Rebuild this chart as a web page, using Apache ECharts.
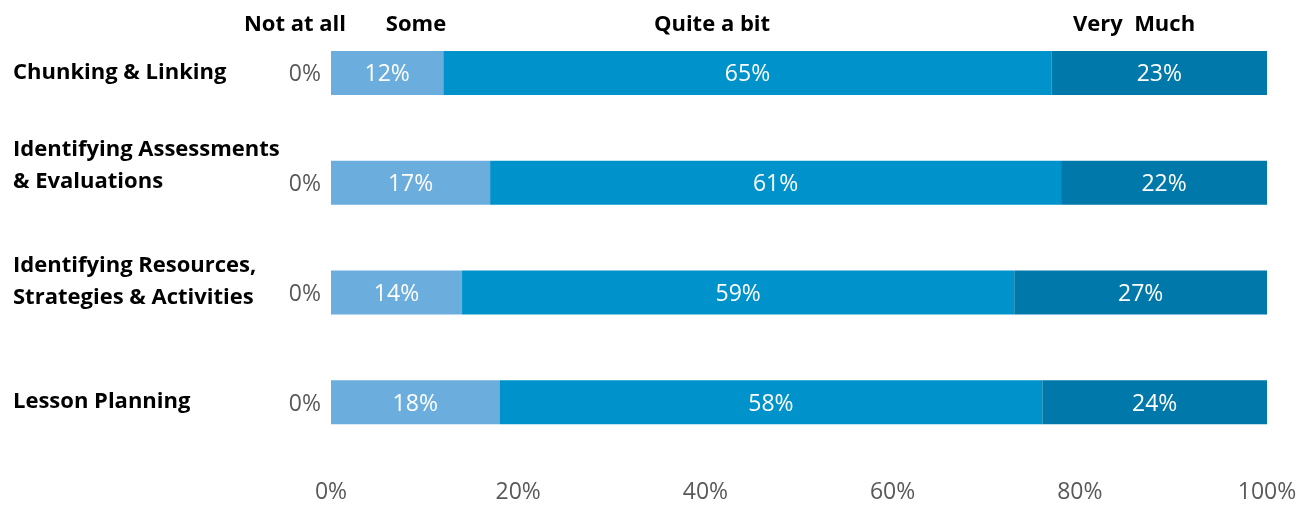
<!DOCTYPE html>
<html><head><meta charset="utf-8">
<script src="https://cdn.jsdelivr.net/npm/echarts@6/dist/echarts.min.js"></script>
<style>html,body{margin:0;padding:0;background:#fff}#c{width:1314px;height:506px}</style>
</head><body><div id="c"></div>
<script>
const categories = ['Chunking & Linking', 'Identifying Assessments\n& Evaluations', 'Identifying Resources,\nStrategies & Activities', 'Lesson Planning'];
const seriesNames = ['Not at all', 'Some', 'Quite a bit', 'Very  Much'];
const notAtAll = [0, 0, 0, 0];
const some = [12, 17, 14, 18];
const quiteABit = [65, 61, 59, 58];
const veryMuch = [23, 22, 27, 24];
const xTicks = [0, 20, 40, 60, 80, 100];

const FONT = '"Open Sans", Lato, sans-serif';
const colors = ['#6BAEDE', '#6BAEDE', '#0092CA', '#0079AA'];
const spacerStyle = [null, 's1', 's2', null];
const values = [notAtAll, some, quiteABit, veryMuch];
const headerX = [295, 416, 712, 1134];

const chart = echarts.init(document.getElementById('c'));
const series = values.map((vals, i) => ({
  name: seriesNames[i],
  type: 'bar',
  stack: 'total',
  barWidth: 44,
  data: vals,
  itemStyle: { color: colors[i] },
  label: i === 0 ? {
    show: true, position: 'left', distance: 10, offset: [0, 2], formatter: '{c}%',
    color: '#595959', fontSize: 23, fontFamily: FONT
  } : {
    show: true, position: 'inside', offset: [0, 2], formatter: '{c}%',
    color: '#ffffff', fontSize: 23, fontFamily: FONT
  }
}));
chart.setOption({
  animation: false,
  grid: { left: 331, right: 47, top: 18, bottom: 49, containLabel: false, outerBoundsMode: 'none' },
  xAxis: {
    type: 'value', min: xTicks[0], max: xTicks[xTicks.length - 1], interval: 20,
    axisLine: { show: false }, axisTick: { show: false }, splitLine: { show: false },
    axisLabel: { formatter: '{value}%', color: '#595959', fontSize: 23, fontFamily: FONT, margin: 24 }
  },
  yAxis: {
    type: 'category', inverse: true,
    data: categories,
    axisLine: { show: false }, axisTick: { show: false },
    axisLabel: {
      align: 'left', margin: 318,
      formatter: (v, idx) => v.split('\n').map(l => '{t|' + l + '}').join('\n') + (spacerStyle[idx] ? '\n{' + spacerStyle[idx] + '| }' : ''),
      rich: {
        t: { color: '#000', fontWeight: 'bold', fontSize: 22, lineHeight: 32, fontFamily: FONT },
        s1: { fontSize: 10, lineHeight: 34 },
        s2: { fontSize: 10, lineHeight: 22 }
      }
    }
  },
  graphic: seriesNames.map((n, i) => ({
    type: 'text', x: headerX[i], y: 25,
    style: { text: n, fill: '#000', font: 'bold 22px ' + FONT, align: 'center', verticalAlign: 'middle' }
  })),
  series: series
});
</script></body></html>
